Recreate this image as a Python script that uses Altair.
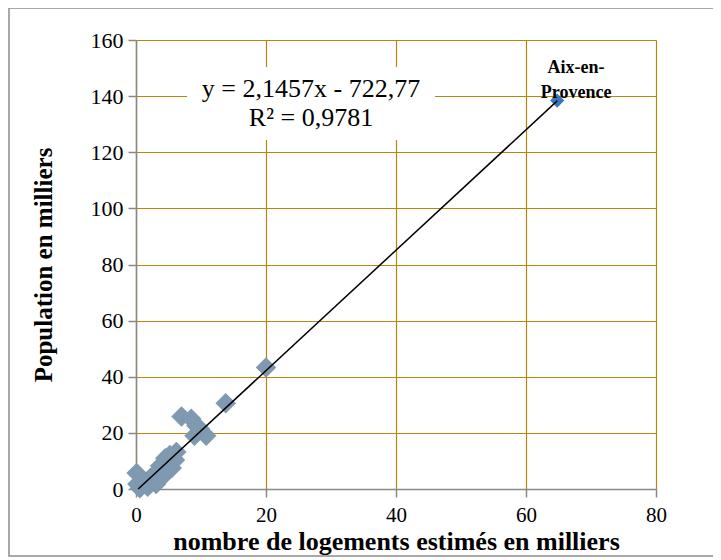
import altair as alt
import pandas as pd

# Communes (thousands of dwellings, thousands of inhabitants)
commune_x = [13.8, 20.0, 7.0, 8.5, 9.3, 9.0, 10.8, 9.8, 0.1, 0.2, 0.6, 1.4, 2.2, 2.9,
             3.7, 4.2, 4.9, 5.2, 6.0, 6.2, 3.1, 1.8, 5.5, 4.5]
commune_y = [30.6, 43.3, 25.8, 25.0, 22.5, 19.0, 19.0, 21.5, 5.7, 1.8, 0.3, 2.5, 3.9, 5.3,
             8.2, 4.6, 9.3, 12.1, 10.3, 13.2, 1.8, 0.8, 7.5, 11.0]

aix_x = [64.8]
aix_y = [138.4]
aix_label = ["Aix-en-\nProvence"]
aix_label_x = [67.7]
aix_label_y = [150.0]

trend_x = [0.34, 64.8]
trend_y = [0.0, 138.3]

eq_lines = ["y = 2,1457x - 722,77", "R² = 0,9781"]

x_ticks = [0, 20, 40, 60, 80]
y_ticks = [0, 20, 40, 60, 80, 100, 120, 140, 160]

FONT = "Liberation Serif"
GRID = "#B8860B"
AXIS = "#888888"

df = pd.DataFrame({"x": commune_x, "y": commune_y})
aix = pd.DataFrame({"x": aix_x, "y": aix_y})
aix_lab = pd.DataFrame({"x": aix_label_x, "y": aix_label_y, "t": aix_label})
trend = pd.DataFrame({"x": trend_x, "y": trend_y})

xs = alt.Scale(domain=[0, 80], nice=False, zero=False)
ys = alt.Scale(domain=[0, 160], nice=False, zero=False)

x_enc = alt.X("x:Q", scale=xs, axis=alt.Axis(
    values=x_ticks, grid=True, title="nombre de logements estimés en milliers",
    titleFontWeight="bold", titleFontSize=26, titlePadding=3,
    labelFontSize=21, labelPadding=7, tickSize=8, labelFlush=False))
y_enc = alt.Y("y:Q", scale=ys, axis=alt.Axis(
    values=y_ticks, grid=True, title="Population en milliers",
    titleFontWeight="bold", titleFontSize=25, titlePadding=34,
    labelFontSize=22, labelPadding=5, tickSize=8, labelFlush=False))

border = alt.Chart(pd.DataFrame({"a": [0]})).mark_rect(
    fill=None, stroke="#8c8c8c", strokeWidth=1.5, clip=False).encode(
    x=alt.value(-127), x2=alt.value(578), y=alt.value(-32), y2=alt.value(516))

box = alt.Chart(pd.DataFrame({"a": [0]})).mark_rect(fill="white").encode(
    x=alt.value(51), x2=alt.value(299), y=alt.value(27), y2=alt.value(100))

eq1 = alt.Chart(pd.DataFrame({"t": [eq_lines[0]]})).mark_text(
    font=FONT, fontSize=26, color="black", baseline="middle", align="center").encode(
    x=alt.value(175), y=alt.value(49), text="t:N")
eq2 = alt.Chart(pd.DataFrame({"t": [eq_lines[1]]})).mark_text(
    font=FONT, fontSize=26, color="black", baseline="middle", align="center").encode(
    x=alt.value(175), y=alt.value(78), text="t:N")

pts = alt.Chart(df).mark_point(shape="diamond", filled=True, size=420,
                               color="#7F99B0", opacity=1).encode(x=x_enc, y=y_enc)
aixp = alt.Chart(aix).mark_point(shape="diamond", filled=True, size=200,
                                 color="#3A78BE", opacity=1).encode(x="x:Q", y="y:Q")
line = alt.Chart(trend).mark_line(color="black", strokeWidth=1.5).encode(x="x:Q", y="y:Q")
lab = alt.Chart(aix_lab).mark_text(font=FONT, fontSize=18, fontWeight="bold",
                                   lineBreak="\n", lineHeight=25, align="center",
                                   baseline="middle", color="black").encode(
    x="x:Q", y="y:Q", text="t:N")

chart = alt.layer(pts, border, box, eq1, eq2, aixp, line, lab).properties(
    width=520, height=449,
    autosize=alt.AutoSizeParams(type="none"),
    padding={"left": 128, "top": 32, "right": 57, "bottom": 70},
).configure(background="white").configure_view(stroke=None).configure_axis(
    labelFont=FONT, titleFont=FONT, labelColor="black", titleColor="black",
    domainColor=AXIS, domainWidth=1.5, tickColor=AXIS, tickWidth=1.5,
    gridColor=GRID, gridWidth=1.2, gridOpacity=1,
)

chart.save("out.html", embed_options={"renderer": "svg", "actions": False})
